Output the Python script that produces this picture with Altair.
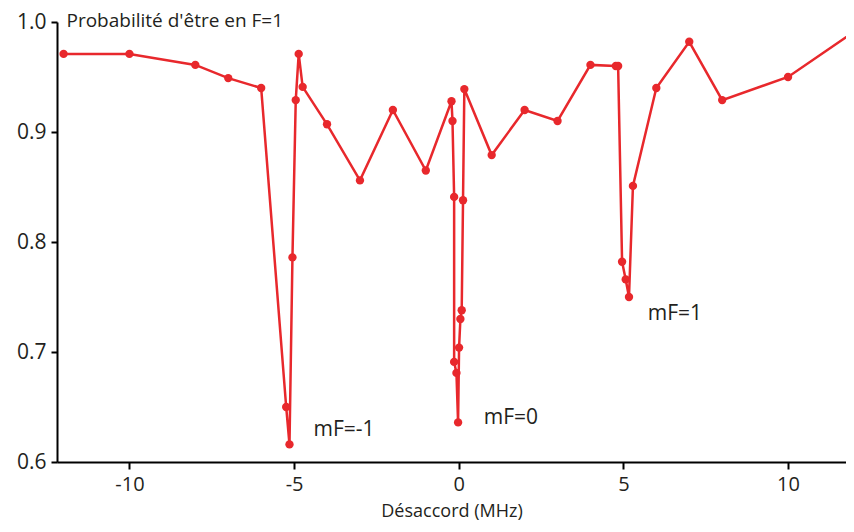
import altair as alt
import pandas as pd

# Detuning (MHz) and probability of being in F=1, in measurement order
detuning = [-12, -10, -8, -7, -6, -5.24, -5.14, -5.05, -4.95, -4.86, -4.74,
            -4, -3, -2, -1, -0.22, -0.19, -0.14, -0.14, -0.07, -0.02,
            0.01, 0.05, 0.09, 0.13, 0.17, 1, 2, 3, 4, 4.77, 4.84,
            4.96, 5.07, 5.17, 5.29, 6, 7, 8, 10, 12]
probability = [0.971, 0.971, 0.961, 0.949, 0.940, 0.650, 0.616, 0.786, 0.929, 0.971, 0.941,
               0.907, 0.856, 0.920, 0.865, 0.928, 0.910, 0.841, 0.691, 0.681, 0.636,
               0.704, 0.730, 0.738, 0.838, 0.939, 0.879, 0.920, 0.910, 0.961, 0.960, 0.960,
               0.782, 0.766, 0.750, 0.851, 0.940, 0.982, 0.929, 0.950, 0.991]

label_text = ["mF=-1", "mF=0", "mF=1"]
label_x = [-4.41, 0.76, 5.74]
label_y = [0.629, 0.640, 0.735]

x_ticks = [-10, -5, 0, 5, 10]
y_ticks = [0.6, 0.7, 0.8, 0.9, 1.0]

df = pd.DataFrame({"x": detuning, "y": probability, "i": range(len(detuning))})
lab = pd.DataFrame({"t": label_text, "x": label_x, "y": label_y})

RED = "#e8282c"
FONT = "Open Sans"
TXT = "#231f20"
FS = 21

xs = alt.Scale(domain=[-12.2, 11.76], nice=False, zero=False)
ys = alt.Scale(domain=[0.6, 1.0], nice=False, zero=False)

xax = alt.Axis(values=x_ticks, labelExpr="toString(datum.value)",
               title="Désaccord (MHz)", grid=False, domainColor="black",
               domainWidth=2, tickColor="black", tickWidth=2, tickSize=7,
               labelFontSize=20, labelFont=FONT, labelColor=TXT, labelPadding=5,
               titleFontSize=18, titleFont=FONT, titleColor=TXT, titleFontWeight="normal",
               titleBaseline="alphabetic", titleY=54)
yax = alt.Axis(values=y_ticks, format=".1f", title="Probabilité d'être en F=1", grid=False,
               domainColor="black", domainWidth=2, tickColor="black", tickWidth=2, tickSize=6,
               labelFontSize=FS, labelFont=FONT, labelColor=TXT, labelPadding=5,
               titleFontSize=19, titleFont=FONT, titleColor=TXT, titleFontWeight="normal",
               titleAngle=0, titleAlign="left", titleBaseline="alphabetic", titleX=9, titleY=4)

base = alt.Chart(df).encode(
    x=alt.X("x:Q", scale=xs, axis=xax),
    y=alt.Y("y:Q", scale=ys, axis=yax),
    order=alt.Order("i:Q"),
)
line = base.mark_line(color=RED, strokeWidth=2.5, clip=True)
pts = base.mark_circle(color=RED, size=70, opacity=1, clip=True)

txt = alt.Chart(lab).mark_text(align="left", baseline="middle", fontSize=FS, font=FONT,
                               color=TXT).encode(
    x=alt.X("x:Q", scale=xs), y=alt.Y("y:Q", scale=ys), text="t:N")

chart = alt.layer(line, pts, txt).properties(
    width=789, height=440,
    autosize=alt.AutoSizeParams(type="none"),
    padding={"left": 49, "top": 14, "right": 0, "bottom": 58},
).configure_view(stroke=None)

chart.save("out.html", embed_options={"renderer": "svg", "actions": False})
